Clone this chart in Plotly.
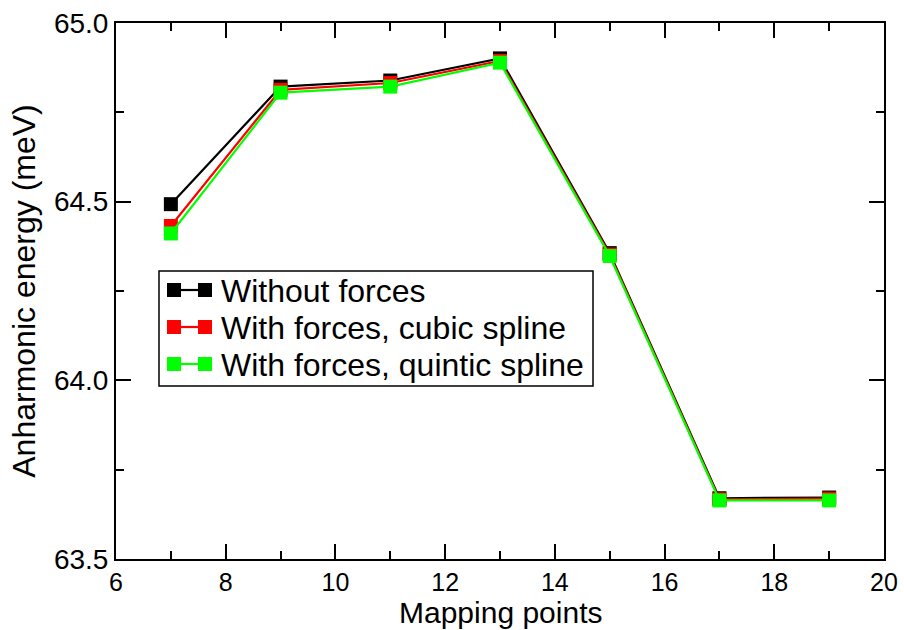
import plotly.graph_objects as go

mapping_points = [7, 9, 11, 13, 15, 17, 19]
without_forces = [64.493, 64.822, 64.839, 64.901, 64.356, 63.670, 63.672]
cubic_spline = [64.432, 64.813, 64.832, 64.894, 64.352, 63.667, 63.669]
quintic_spline = [64.411, 64.805, 64.822, 64.889, 64.348, 63.664, 63.664]

series_names = ["Without forces", "With forces, cubic spline", "With forces, quintic spline"]
series_values = [without_forces, cubic_spline, quintic_spline]
series_colors = ["#000000", "#ff0000", "#00ff00"]

FONT = "Liberation Sans, Arial, Helvetica, sans-serif"
W, H = 904, 630
ML, MR, MT, MB = 116, 20, 23, 71
PW, PH = W - ML - MR, H - MT - MB


def px(x):
    return (x - ML) / PW


def py(y):
    return (H - MB - y) / PH


fig = go.Figure()
for name, vals, color in zip(series_names, series_values, series_colors):
    fig.add_trace(go.Scatter(
        x=mapping_points, y=vals, name=name, mode="lines+markers",
        line=dict(color=color, width=2.2),
        marker=dict(symbol="square", size=14, color=color, line=dict(width=0)),
        showlegend=False,
    ))

# Custom legend (box, glyph with two squares, text) in paper coordinates
shapes = [dict(type="rect", xref="paper", yref="paper",
               x0=px(159), x1=px(593), y0=py(386), y1=py(271),
               line=dict(color="black", width=1.5), fillcolor="white", layer="above")]
annotations = []
row_centers = [290, 327, 364]
for name, color, rc in zip(series_names, series_colors, row_centers):
    shapes.append(dict(type="line", xref="paper", yref="paper",
                       x0=px(174), x1=px(205), y0=py(rc), y1=py(rc),
                       line=dict(color=color, width=2.2), layer="above"))
    for cx in (174, 205):
        shapes.append(dict(type="rect", xref="paper", yref="paper",
                           x0=px(cx - 7), x1=px(cx + 7), y0=py(rc + 7), y1=py(rc - 7),
                           line=dict(width=0), fillcolor=color, layer="above"))
    annotations.append(dict(xref="paper", yref="paper", x=px(219), y=py(rc + 1),
                            xanchor="left", yanchor="middle", showarrow=False,
                            text=name, font=dict(family=FONT, size=32, color="black")))

# x-axis title as an annotation anchored to the bottom edge
annotations.append(dict(xref="paper", yref="paper", x=0.5, y=py(H),
                        xanchor="center", yanchor="bottom", showarrow=False, borderpad=0,
                        text="Mapping points", font=dict(family=FONT, size=30, color="black")))

axis_common = dict(
    showline=True, linecolor="black", linewidth=2, mirror="ticks",
    ticks="inside", ticklen=15, tickwidth=1.5, tickcolor="black",
    showgrid=False, zeroline=False, automargin=False,
)

fig.update_layout(
    width=W, height=H,
    margin=dict(l=ML, r=MR, t=MT, b=MB, autoexpand=False),
    paper_bgcolor="white", plot_bgcolor="white",
    font=dict(family=FONT, color="black"),
    xaxis=dict(
        range=[6, 20], dtick=2, tick0=6,
        minor=dict(dtick=1, ticks="inside", ticklen=8, tickwidth=1.5, tickcolor="black"),
        tickfont=dict(family=FONT, size=25, color="black"),
        **axis_common,
    ),
    yaxis=dict(
        range=[63.5, 65.0], dtick=0.5, tick0=63.5, tickformat=".1f",
        minor=dict(dtick=0.25, ticks="inside", ticklen=8, tickwidth=1.5, tickcolor="black"),
        title=dict(text="Anharmonic energy (meV)", font=dict(family=FONT, size=32), standoff=9),
        tickfont=dict(family=FONT, size=28, color="black"),
        **axis_common,
    ),
    shapes=shapes,
    annotations=annotations,
    showlegend=False,
)

fig.write_html("out.html")
